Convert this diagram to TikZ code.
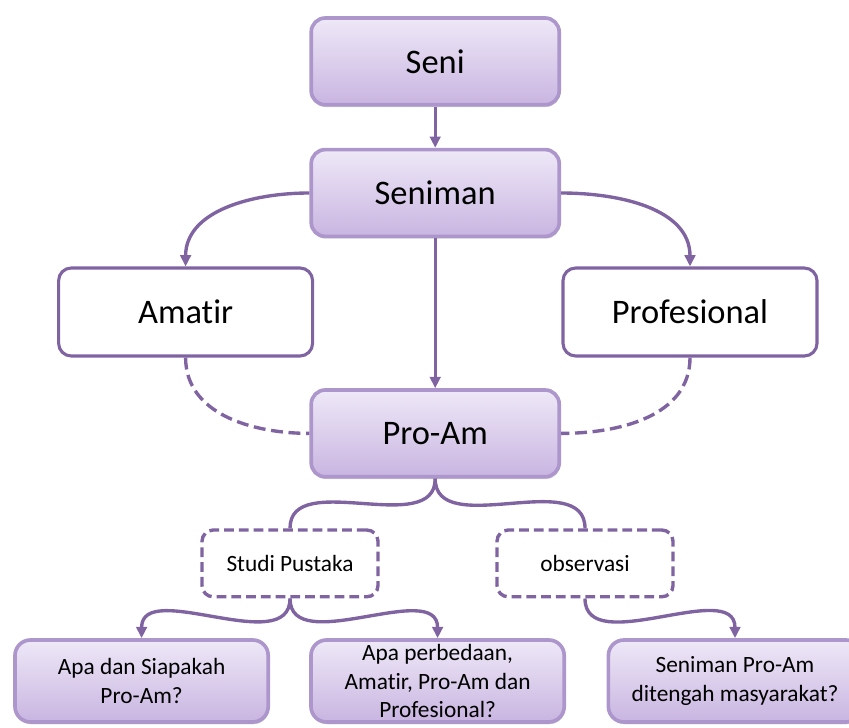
\documentclass[tikz,border=0pt]{standalone}
\usepackage{fontspec}
\setmainfont{Carlito}[Ligatures=NoCommon]
\definecolor{LinePurple}{HTML}{8064A2}
\definecolor{EdgeLilac}{HTML}{AC96CC}
\definecolor{TopLilac}{HTML}{EEE8F7}
\definecolor{BottomLilac}{HTML}{C9B5E1}
\usetikzlibrary{
  arrows.meta,
  shadows
}

\begin{document}
\begin{tikzpicture}[
  mainbox/.style={
    rectangle, rounded corners=10pt,
    draw=EdgeLilac, line width=2.6pt,
    top color=TopLilac, bottom color=BottomLilac,
    drop shadow={shadow xshift=0.6pt, shadow yshift=-1.6pt,
      opacity=0.35, fill=black!45},
    minimum width=6.2cm, minimum height=2.17cm,
    font=\fontsize{24.5}{29}\selectfont, align=center
  },
  choicebox/.style={
    rectangle, rounded corners=9pt,
    draw=LinePurple, line width=2.2pt, fill=white,
    minimum width=6.35cm, minimum height=2.2cm,
    font=\fontsize{24.5}{29}\selectfont, align=center
  },
  methodbox/.style={
    rectangle, rounded corners=8pt,
    draw=LinePurple, line width=2.4pt, fill=white,
    dash pattern=on 7pt off 3.5pt,
    minimum width=4.4cm, minimum height=1.67cm,
    font=\fontsize{16.6}{20}\selectfont, align=center
  },
  questionbox/.style={
    mainbox, rounded corners=11pt,
    minimum width=6.33cm, minimum height=2.05cm,
    font=\fontsize{16.6}{20}\selectfont
  },
  link/.style={
    draw=LinePurple, line width=2.4pt,
    -{Triangle[length=8pt, width=7.5pt]}
  },
  dashlink/.style={
    draw=LinePurple, line width=2.4pt,
    dash pattern=on 8.5pt off 4pt
  },
  branch/.style={
    draw=LinePurple, line width=2.4pt
  }
]
  \useasboundingbox (0,0) rectangle (21.225,18.175);
  \clip (0,0) rectangle (21.225,18.175);

  % Main column (top to bottom)
  \node[mainbox] (seni)
    at (10.88,16.64) {Seni};
  \node[mainbox] (seniman)
    at (10.88,13.35) {Seniman};
  \node[mainbox] (proam)
    at (10.88,7.34) {Pro-Am};

  % Two kinds of artists
  \node[choicebox] (amatir)
    at (4.64,10.375) {Amatir};
  \node[choicebox] (profesional)
    at (17.25,10.375) {Profesional};

  % Methods
  \node[methodbox] (studi)
    at (7.25,4.09) {Studi Pustaka};
  \node[methodbox] (observasi)
    at (14.625,4.09) {observasi};

  % Questions at the bottom
  \node[questionbox] (apa)
    at (3.54,1.15) {Apa dan Siapakah\\Pro-Am?};
  \node[questionbox] (beda)
    at (10.94,1.15) {Apa perbedaan,\\Amatir, Pro-Am dan\\Profesional?};
  \node[questionbox] (masyarakat)
    at (18.375,1.15) {Seniman Pro-Am\\ditengah masyarakat?};

  \draw[link] (seni) -- (seniman);
  \draw[link] (seniman) -- (proam);
  \draw[link] (seniman.west)
    to[out=180, in=90] (amatir.north);
  \draw[link] (seniman.east)
    to[out=0, in=90] (profesional.north);

  \draw[dashlink] (amatir.south)
    to[out=-90, in=180] (proam.west);
  \draw[dashlink] (profesional.south)
    to[out=-90, in=0] (proam.east);

  \draw[branch] (proam.south)
    to[out=-90, in=90] (studi.north);
  \draw[branch] (proam.south)
    to[out=-90, in=90] (observasi.north);

  \draw[link] (studi.south)
    to[out=-90, in=90] (apa.north);
  \draw[link] (studi.south)
    to[out=-90, in=90] (beda.north);
  \draw[link] (observasi.south)
    to[out=-90, in=90] (masyarakat.north);
\end{tikzpicture}
\end{document}
